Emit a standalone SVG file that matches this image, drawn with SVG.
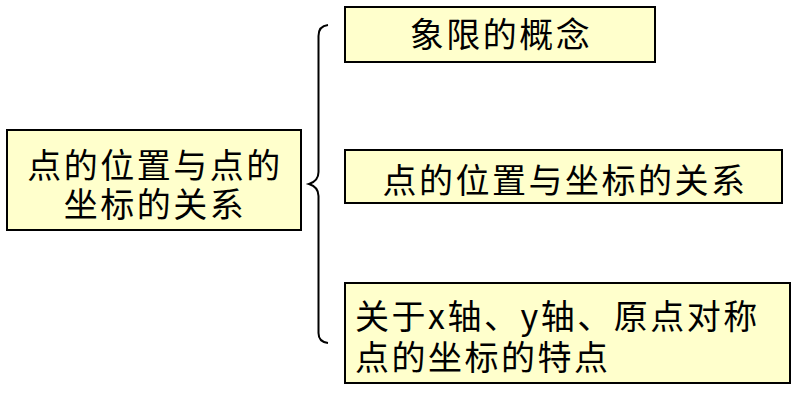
<svg xmlns="http://www.w3.org/2000/svg" width="792" height="400" viewBox="0 0 792 400">
<style>
.box{fill:#FFFFCC;stroke:#000;stroke-width:2}
.t{font-family:"Noto Sans CJK SC","Liberation Sans",sans-serif;font-size:34px;fill:#000;letter-spacing:2.5px}
.c{text-anchor:middle}
.br{fill:none;stroke:#000;stroke-width:2}
</style>
<rect width="792" height="400" fill="#fff"/>
<g id="root">
<rect class="box" x="7" y="130" width="294" height="100"/>
<text class="t c"><tspan x="155" y="178">点的位置与点的</tspan><tspan x="155" y="217">坐标的关系</tspan></text>
</g>
<g id="connectors">
<path class="br" d="M328,25 Q318.5,26 318.5,36 L318.5,172 Q318.5,181 309,184 Q318.5,187 318.5,196 L318.5,333 Q318.5,342 328,343"/>
</g>
<g id="n1">
<rect class="box" x="345" y="7" width="310" height="55"/>
<text class="t c" x="501" y="47">象限的概念</text>
</g>
<g id="n2">
<rect class="box" x="345" y="150" width="437" height="53"/>
<text class="t c" x="565" y="193">点的位置与坐标的关系</text>
</g>
<g id="n3">
<rect class="box" x="345" y="283" width="445" height="100"/>
<text class="t"><tspan x="355" y="329">关于x轴、y轴、原点对称</tspan><tspan x="355" y="370">点的坐标的特点</tspan></text>
</g>
</svg>
